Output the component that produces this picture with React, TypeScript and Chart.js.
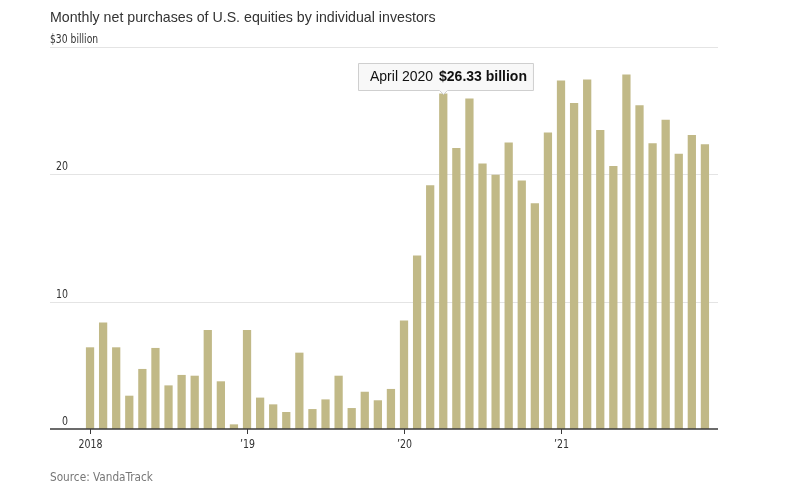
import React, { useEffect, useRef } from "react";
import { Chart, registerables } from "chart.js";

Chart.register(...registerables);

const TITLE = "Monthly net purchases of U.S. equities by individual investors";
const SOURCE = "Source: VandaTrack";

const months = [
  "January", "February", "March", "April", "May", "June",
  "July", "August", "September", "October", "November", "December",
];
const years = [2018, 2019, 2020, 2021];
const categories = years.flatMap((y) => months.map((m) => `${m} ${y}`));

const values2018 = [6.39, 8.33, 6.39, 2.59, 4.69, 6.34, 3.4, 4.22, 4.16, 7.75, 3.72, 0.34];
const values2019 = [7.75, 2.44, 1.91, 1.31, 5.97, 1.54, 2.3, 4.16, 1.62, 2.9, 2.23, 3.12];
const values2020 = [8.5, 13.59, 19.11, 26.33, 22.05, 25.92, 20.82, 19.95, 22.47, 19.48, 17.7, 23.25];
const values2021 = [27.34, 25.58, 27.42, 23.46, 20.63, 27.81, 25.4, 22.41, 24.27, 21.6, 23.07, 22.33];
const values = [...values2018, ...values2019, ...values2020, ...values2021];

const yTicks = [0, 10, 20, 30];
const yTickLabels = ["0", "10", "20", "$30 billion"];
const xTickIndex = [0, 12, 24, 36];
const xTickLabels = ["2018", "\u201919", "\u201920", "\u201921"];

const HIGHLIGHT = categories.indexOf("April 2020");

const BAR_COLOR = "#c1b987";
const NARROW = "'DejaVu Sans Condensed', 'Liberation Sans Narrow', sans-serif";
const SANS = "'Liberation Sans', Arial, sans-serif";

function narrowText(ctx: CanvasRenderingContext2D, text: string, x: number, y: number, sx: number, align: "left" | "center" | "right") {
  const w = ctx.measureText(text).width * sx;
  const left = align === "center" ? x - w / 2 : align === "right" ? x - w : x;
  ctx.save();
  ctx.textAlign = "left";
  ctx.translate(left, y);
  ctx.scale(sx, 1);
  ctx.fillText(text, 0, 0);
  ctx.restore();
}

const overlay = {
  id: "overlay",
  beforeDatasetsDraw(chart: any) {
    const { ctx, chartArea, scales } = chart;
    const y = scales.y;
    ctx.save();
    ctx.strokeStyle = "#e4e4e4";
    ctx.lineWidth = 1;
    yTicks.forEach((t) => {
      if (t === 0) return;
      const py = Math.round(y.getPixelForValue(t)) + 0.5;
      ctx.beginPath();
      ctx.moveTo(chartArea.left, py);
      ctx.lineTo(chartArea.right, py);
      ctx.stroke();
    });
    ctx.restore();
  },
  afterDatasetsDraw(chart: any) {
    const { ctx, chartArea, scales } = chart;
    const x = scales.x;
    const y = scales.y;
    ctx.save();
    const by = y.getPixelForValue(0);
    ctx.strokeStyle = "#3a3a3a";
    ctx.lineWidth = 1.4;
    ctx.beginPath();
    ctx.moveTo(chartArea.left, by);
    ctx.lineTo(chartArea.right, by);
    ctx.stroke();

    // y labels
    ctx.fillStyle = "#333";
    ctx.font = `12.5px ${NARROW}`;
    ctx.textBaseline = "alphabetic";
    yTicks.forEach((t, i) => {
      const py = y.getPixelForValue(t);
      if (t === 30) {
        narrowText(ctx, yTickLabels[i], chartArea.left, py - 4, 0.82, "left");
      } else {
        narrowText(ctx, yTickLabels[i], chartArea.left + 18, py - 4, 0.84, "right");
      }
    });

    // x ticks
    ctx.strokeStyle = "#3a3a3a";
    ctx.lineWidth = 1;
    ctx.font = `12.5px ${NARROW}`;
    ctx.textBaseline = "alphabetic";
    xTickIndex.forEach((idx, i) => {
      const px = Math.round(x.getPixelForValue(idx)) + 0.5;
      ctx.beginPath();
      ctx.moveTo(px, by);
      ctx.lineTo(px, by + 5);
      ctx.stroke();
      narrowText(ctx, xTickLabels[i], px, by + 19, 0.84, "center");
    });

    // tooltip
    const tx = x.getPixelForValue(HIGHLIGHT);
    const ty = y.getPixelForValue(values[HIGHLIGHT]);
    const label1 = categories[HIGHLIGHT];
    const label2 = `$${values[HIGHLIGHT].toFixed(2)} billion`;
    ctx.font = `14px ${SANS}`;
    const w1 = ctx.measureText(label1).width;
    ctx.font = `bold 14px ${SANS}`;
    const w2 = ctx.measureText(label2).width;
    const pad = 12;
    const gap = 6;
    const boxW = pad + w1 + gap + w2 + 6;
    const boxH = 27;
    const boxBottom = Math.round(ty - 4);
    const boxTop = boxBottom - boxH;
    const boxLeft = Math.round(tx - 85.5);
    const tip = Math.round(tx);
    ctx.fillStyle = "#f8f8f8";
    ctx.strokeStyle = "#cfcfcf";
    ctx.lineWidth = 1;
    ctx.beginPath();
    ctx.moveTo(boxLeft + 0.5, boxTop + 0.5);
    ctx.lineTo(boxLeft + boxW + 0.5, boxTop + 0.5);
    ctx.lineTo(boxLeft + boxW + 0.5, boxBottom + 0.5);
    ctx.lineTo(tip + 4.5, boxBottom + 0.5);
    ctx.lineTo(tip + 0.5, boxBottom + 4.5);
    ctx.lineTo(tip - 3.5, boxBottom + 0.5);
    ctx.lineTo(boxLeft + 0.5, boxBottom + 0.5);
    ctx.closePath();
    ctx.fill();
    ctx.stroke();
    ctx.fillStyle = "#111";
    ctx.textAlign = "left";
    ctx.textBaseline = "middle";
    ctx.font = `14px ${SANS}`;
    ctx.fillText(label1, boxLeft + pad, boxTop + boxH / 2 + 1);
    ctx.font = `bold 14px ${SANS}`;
    ctx.fillText(label2, boxLeft + pad + w1 + gap, boxTop + boxH / 2 + 1);

    // title & source
    ctx.fillStyle = "#333";
    ctx.textBaseline = "alphabetic";
    ctx.font = `14.2px ${SANS}`;
    ctx.fillText(TITLE, 50, 22);
    ctx.fillStyle = "#777";
    ctx.font = `13px ${NARROW}`;
    narrowText(ctx, SOURCE, 50, 481, 0.9, "left");
    ctx.restore();
  },
};

export default function App() {
  const ref = useRef<HTMLCanvasElement | null>(null);
  useEffect(() => {
    if (!ref.current) return;
    const chart = new Chart(ref.current, {
      type: "bar",
      data: {
        datasets: [
          {
            label: "Net purchases",
            data: values.map((v, i) => ({ x: i, y: v })),
            backgroundColor: BAR_COLOR,
            barThickness: 7.6,
            borderWidth: 0,
          },
        ],
      },
      options: {
        animation: false,
        responsive: false,
        events: [],
        layout: { padding: { left: 50, right: 82, top: 47, bottom: 72 } },
        plugins: { legend: { display: false }, tooltip: { enabled: false }, title: { display: false } },
        scales: {
          x: { type: "linear", display: false, offset: false, bounds: "ticks", min: -3.06, max: 48 },
          y: { type: "linear", display: false, min: 0, max: 30 },
        },
      },
      plugins: [overlay],
    });
    return () => chart.destroy();
  }, []);
  return (
    <div style={{ position: "fixed", left: 0, top: 0, width: 800, height: 501, background: "#fff" }}>
      <canvas ref={ref} width={800} height={501} style={{ display: "block" }} />
    </div>
  );
}
